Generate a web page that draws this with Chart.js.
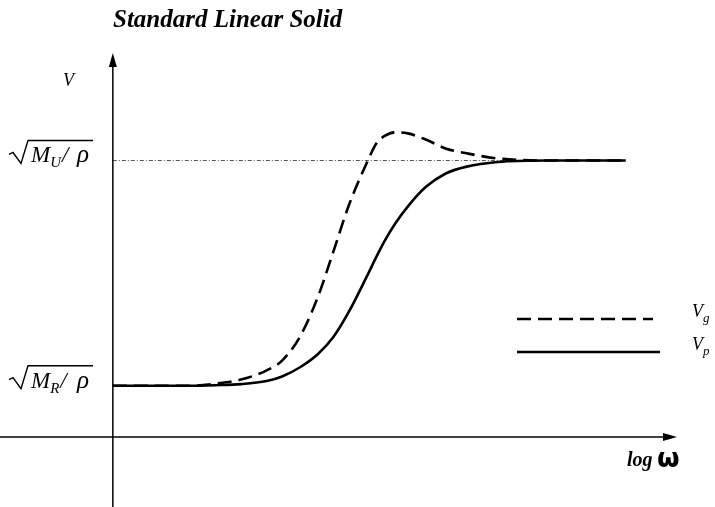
<!DOCTYPE html>
<html>
<head>
<meta charset="utf-8">
<script src="https://cdn.jsdelivr.net/npm/chart.js@4.4.0/dist/chart.umd.min.js"></script>
<style>
html, body { margin: 0; padding: 0; background: #fff; }
#wrap { width: 715px; height: 507px; }
</style>
</head>
<body>
<div id="wrap"><canvas id="grafico"></canvas></div>
<script>
// niveles de velocidad (unidades relativas)
const V_R = 1.0;
const V_U = 5.4;

// eje x: log w (unidades relativas)
const logW = [0, 1.5, 2.0, 2.5, 3.0, 3.3, 3.65, 4.0, 4.3, 4.6, 4.95, 5.15, 5.3, 5.5, 5.75, 6.1, 6.5, 6.9, 7.5, 8.5, 10];
// velocidad de fase (linea continua)
const vFase = [V_R, 1.0, 1.01, 1.03, 1.09, 1.18, 1.36, 1.62, 1.95, 2.44, 3.13, 3.54, 3.83, 4.16, 4.50, 4.88, 5.15, 5.28, 5.37, V_U, V_U];
// velocidad de grupo (linea discontinua)
const vGrupo = [V_R, 1.0, 1.04, 1.12, 1.30, 1.49, 1.96, 2.74, 3.62, 4.52, 5.35, 5.75, 5.88, 5.95, 5.93, 5.81, 5.63, 5.54, 5.44, V_U, V_U];

// etiquetas del eje y
const nivelesY = [V_R, V_U];
const subNiveles = ['R', 'U'];
const nombres = ['V', 'g', 'V', 'p'];

function puntos(xs, ys) {
    return xs.map((x, i) => ({ x: x, y: ys[i] }));
}

// texto con subindice
function textoSub(ctx, base, sub, x, y, fBase, fSub) {
    ctx.font = fBase;
    ctx.fillText(base, x, y);
    x += ctx.measureText(base).width;
    ctx.font = fSub;
    ctx.fillText(sub, x, y + 5);
    return x + ctx.measureText(sub).width;
}

const dibujos = {
    id: 'dibujos',
    afterDraw(chart) {
        const ctx = chart.ctx;
        const sx = chart.scales.x, sy = chart.scales.y;
        const x0 = sx.getPixelForValue(0);
        const y0 = sy.getPixelForValue(0);
        ctx.save();
        ctx.strokeStyle = '#000';
        ctx.fillStyle = '#000';
        ctx.lineWidth = 1.5;
        ctx.setLineDash([]);

        // eje y con flecha
        const top = sy.getPixelForValue(sy.max);
        ctx.beginPath();
        ctx.moveTo(x0, sy.getPixelForValue(sy.min));
        ctx.lineTo(x0, top + 10);
        ctx.stroke();
        ctx.beginPath();
        ctx.moveTo(x0, top);
        ctx.lineTo(x0 - 4, top + 14);
        ctx.lineTo(x0 + 4, top + 14);
        ctx.closePath();
        ctx.fill();

        // eje x con flecha
        const der = sx.getPixelForValue(sx.max);
        ctx.beginPath();
        ctx.moveTo(sx.getPixelForValue(sx.min), y0);
        ctx.lineTo(der - 10, y0);
        ctx.stroke();
        ctx.beginPath();
        ctx.moveTo(der, y0);
        ctx.lineTo(der - 14, y0 - 4);
        ctx.lineTo(der - 14, y0 + 4);
        ctx.closePath();
        ctx.fill();

        // titulo
        ctx.textBaseline = 'alphabetic';
        ctx.textAlign = 'left';
        ctx.font = 'bold italic 25px "Liberation Serif"';
        ctx.fillText('Standard Linear Solid', 113, 27);

        // etiqueta V
        ctx.font = 'italic 18px "Liberation Serif"';
        ctx.fillText('V', 63, 86);

        // etiqueta log w
        ctx.font = 'bold italic 20px "Liberation Serif"';
        ctx.fillText('log', 627, 466);
        ctx.font = 'bold 26px "DejaVu Sans"';
        ctx.fillText('\u03c9', 657, 467);

        // etiquetas de los niveles: raiz(M/rho)
        nivelesY.forEach((v, i) => {
            const b = sy.getPixelForValue(v) + 2;
            const fs = textoSub(ctx, 'M', subNiveles[i], 31, b,
                'italic 23px "Liberation Serif"', 'italic 15px "Liberation Serif"');
            ctx.font = 'italic 23px "Liberation Serif"';
            ctx.fillText('/', fs + 1, b);
            ctx.font = 'italic 25px "Liberation Serif"';
            ctx.fillText('\u03c1', 77, b);
            ctx.lineWidth = 1.4;
            ctx.beginPath();
            ctx.moveTo(9, b - 8);
            ctx.lineTo(13, b - 10);
            ctx.lineTo(21, b + 1);
            ctx.lineTo(28, b - 22);
            ctx.lineTo(93, b - 22);
            ctx.stroke();
        });

        // leyenda
        const ds = chart.data.datasets;
        ctx.lineWidth = 2.5;
        ctx.setLineDash(ds[0].borderDash);
        ctx.beginPath();
        ctx.moveTo(517, 319);
        ctx.lineTo(653, 319);
        ctx.stroke();
        ctx.setLineDash([]);
        ctx.beginPath();
        ctx.moveTo(517, 352);
        ctx.lineTo(660, 352);
        ctx.stroke();
        textoSub(ctx, nombres[0], nombres[1], 692, 317,
            'italic 18px "Liberation Serif"', 'italic 13px "Liberation Serif"');
        textoSub(ctx, nombres[2], nombres[3], 692, 350,
            'italic 18px "Liberation Serif"', 'italic 13px "Liberation Serif"');
        ctx.restore();
    }
};

const ctx = document.getElementById('grafico').getContext('2d');
const grafico = new Chart(ctx, {
    type: 'scatter',
    data: {
        datasets: [{
            label: 'Vg',
            data: puntos(logW, vGrupo),
            showLine: true,
            borderColor: '#000',
            borderWidth: 2.6,
            borderDash: [14, 7],
            pointRadius: 0,
            cubicInterpolationMode: 'monotone',
            order: 1
        }, {
            label: 'Vp',
            data: puntos(logW, vFase),
            showLine: true,
            borderColor: '#000',
            borderWidth: 2.6,
            pointRadius: 0,
            cubicInterpolationMode: 'monotone',
            order: 2
        }, {
            label: 'ref',
            data: [{ x: 0, y: V_U }, { x: 10, y: V_U }],
            showLine: true,
            borderColor: '#555',
            borderWidth: 1,
            borderDash: [4, 2, 1, 2],
            pointRadius: 0,
            order: 3
        }]
    },
    options: {
        responsive: true,
        maintainAspectRatio: false,
        animation: false,
        layout: { padding: { left: 0, right: 38, top: 53, bottom: 0 } },
        plugins: { legend: { display: false }, tooltip: { enabled: false } },
        scales: {
            x: { type: 'linear', min: -2.2, max: 11, display: false },
            y: { min: -1.37, max: 7.5, display: false }
        }
    },
    plugins: [dibujos]
});
</script>
</body>
</html>
